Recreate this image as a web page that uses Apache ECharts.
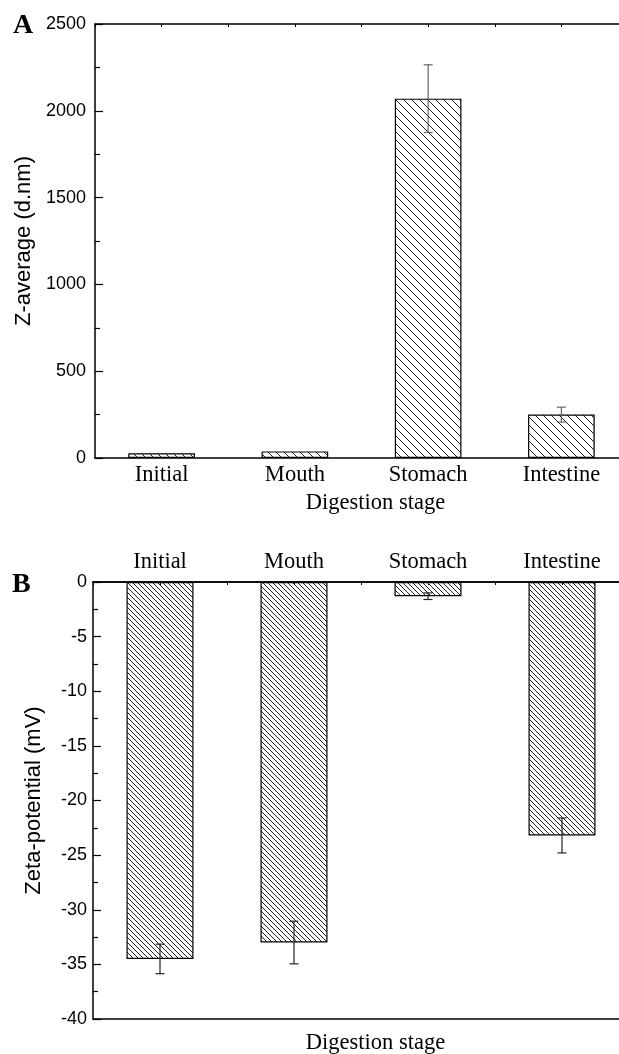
<!DOCTYPE html>
<html>
<head>
<meta charset="utf-8">
<script src="https://cdn.jsdelivr.net/npm/echarts@6/dist/echarts.min.js"></script>
<style>html,body{margin:0;padding:0;background:#fff;}#chart{width:619px;height:1054px;}</style>
</head>
<body>
<div id="chart"></div>
<script>
// ---- data ----
const categories = ['Initial', 'Mouth', 'Stomach', 'Intestine'];
const zAverage = [27, 38, 2070, 250];          // d.nm
const zAverageErr = [0, 0, 195, 43];
const zeta = [-34.5, -33.0, -1.3, -23.2];      // mV
const zetaErr = [1.35, 1.95, 0.3, 1.6];
const zTicks = [0, 500, 1000, 1500, 2000, 2500];
const zetaTicks = [-40, -35, -30, -25, -20, -15, -10, -5, 0];

// ---- styles ----
function hatch(n, color) {
  const c = document.createElement('canvas');
  c.width = n; c.height = n;
  const ctx = c.getContext('2d');
  ctx.strokeStyle = color; ctx.lineWidth = 1;
  ctx.beginPath();
  for (const k of [-n, 0, n]) { ctx.moveTo(k, 0); ctx.lineTo(k + n, n); }
  ctx.stroke();
  return c;
}
const sans = 'Liberation Sans, Arial, sans-serif';
const serif = 'Liberation Serif, Times New Roman, serif';

function errData(vals, errs) {
  return vals.map((v, i) => errs[i] > 0 ? [i, v - errs[i], v + errs[i]] : null).filter(d => d);
}
function errRender(color) {
  return function (params, api) {
    const lo = api.coord([api.value(0), api.value(1)]);
    const hi = api.coord([api.value(0), api.value(2)]);
    const w = 4.5;
    const st = { stroke: color, lineWidth: 1.2 };
    return { type: 'group', children: [
      { type: 'line', shape: { x1: lo[0], y1: lo[1], x2: hi[0], y2: hi[1] }, style: st },
      { type: 'line', shape: { x1: lo[0] - w, y1: lo[1], x2: lo[0] + w, y2: lo[1] }, style: st },
      { type: 'line', shape: { x1: hi[0] - w, y1: hi[1], x2: hi[0] + w, y2: hi[1] }, style: st }
    ]};
  };
}
const plain = v => String(v);

const axisLineStyle = { color: '#000', width: 1.5 };
const chart = echarts.init(document.getElementById('chart'));
chart.setOption({
  animation: false,
  backgroundColor: '#fff',
  grid: [
    { left: 95, top: 24, width: 533, height: 434, outerBoundsMode: 'none' },
    { left: 93, top: 582, width: 536, height: 437, outerBoundsMode: 'none' }
  ],
  xAxis: [
    { // A bottom categories
      type: 'category', gridIndex: 0, data: categories, position: 'bottom',
      axisLine: { lineStyle: axisLineStyle },
      axisTick: { inside: true, length: 3, lineStyle: { color: '#000' } },
      axisLabel: { fontFamily: serif, fontSize: 22.5, color: '#000', margin: 6 }
    },
    { // A top ticks
      type: 'value', gridIndex: 0, position: 'top', min: 0, max: 8, interval: 1,
      axisLine: { show: true, lineStyle: axisLineStyle },
      axisTick: { show: true, inside: true, length: 3, lineStyle: { color: '#000' } },
      axisLabel: { show: false }, splitLine: { show: false }
    },
    { // B top categories
      type: 'category', gridIndex: 1, data: categories, position: 'top',
      axisLine: { lineStyle: axisLineStyle },
      axisTick: { show: false },
      axisLabel: { fontFamily: serif, fontSize: 22.5, color: '#000', margin: 8 }
    },
    { // B top ticks
      type: 'value', gridIndex: 1, position: 'top', min: 0, max: 8, interval: 1,
      axisLine: { show: true, lineStyle: axisLineStyle },
      axisTick: { show: true, inside: true, length: 3, lineStyle: { color: '#000' } },
      axisLabel: { show: false }, splitLine: { show: false }
    },
    { // B bottom line
      type: 'category', gridIndex: 1, data: categories, position: 'bottom',
      axisLine: { onZero: false, lineStyle: axisLineStyle },
      axisTick: { show: false }, axisLabel: { show: false }
    }
  ],
  yAxis: [
    {
      type: 'value', gridIndex: 0, min: zTicks[0], max: zTicks[zTicks.length - 1], interval: 500,
      name: 'Z-average (d.nm)', nameLocation: 'middle', nameGap: 60,
      nameTextStyle: { fontFamily: sans, fontSize: 22, color: '#000' },
      axisLine: { show: true, lineStyle: axisLineStyle },
      axisTick: { show: true, inside: true, length: 8, lineStyle: { color: '#000', width: 1.2 } },
      minorTick: { show: true, splitNumber: 2, length: 5, lineStyle: { color: '#000', width: 1.2 } },
      axisLabel: { fontFamily: sans, fontSize: 18, color: '#000', margin: 9, formatter: plain },
      splitLine: { show: false }
    },
    {
      type: 'value', gridIndex: 1, min: zetaTicks[0], max: zetaTicks[zetaTicks.length - 1], interval: 5,
      name: 'Zeta-potential (mV)', nameLocation: 'middle', nameGap: 48,
      nameTextStyle: { fontFamily: sans, fontSize: 22, color: '#000' },
      axisLine: { show: true, lineStyle: axisLineStyle },
      axisTick: { show: true, inside: true, length: 8, lineStyle: { color: '#000', width: 1.2 } },
      minorTick: { show: true, splitNumber: 2, length: 5, lineStyle: { color: '#000', width: 1.2 } },
      axisLabel: { fontFamily: sans, fontSize: 18, color: '#000', margin: 6, formatter: plain },
      splitLine: { show: false }
    }
  ],
  series: [
    {
      type: 'bar', xAxisIndex: 0, yAxisIndex: 0, data: zAverage, barWidth: '50%',
      itemStyle: { color: { image: hatch(8, '#222'), repeat: 'repeat' }, borderColor: '#000', borderWidth: 1.2 },
      z: 2
    },
    {
      type: 'custom', xAxisIndex: 0, yAxisIndex: 0, data: errData(zAverage, zAverageErr),
      encode: { x: 0, y: [1, 2] }, renderItem: errRender('#666'), z: 3
    },
    {
      type: 'bar', xAxisIndex: 2, yAxisIndex: 1, data: zeta, barWidth: '50%',
      itemStyle: { color: { image: hatch(5, '#222'), repeat: 'repeat' }, borderColor: '#000', borderWidth: 1.2 },
      z: 2
    },
    {
      type: 'custom', xAxisIndex: 2, yAxisIndex: 1, data: errData(zeta, zetaErr),
      encode: { x: 0, y: [1, 2] }, renderItem: errRender('#222'), z: 3
    }
  ],
  graphic: [
    { type: 'text', left: 13, top: 12, style: { text: 'A', font: 'bold 28px ' + serif, fill: '#000' } },
    { type: 'text', left: 12, top: 571, style: { text: 'B', font: 'bold 28px ' + serif, fill: '#000' } },
    { type: 'text', x: 375.5, y: 503, style: { text: 'Digestion stage', font: '22.5px ' + serif, fill: '#000', textAlign: 'center', textVerticalAlign: 'middle' } },
    { type: 'text', x: 375.5, y: 1043, style: { text: 'Digestion stage', font: '22.5px ' + serif, fill: '#000', textAlign: 'center', textVerticalAlign: 'middle' } }
  ]
});
</script>
</body>
</html>
